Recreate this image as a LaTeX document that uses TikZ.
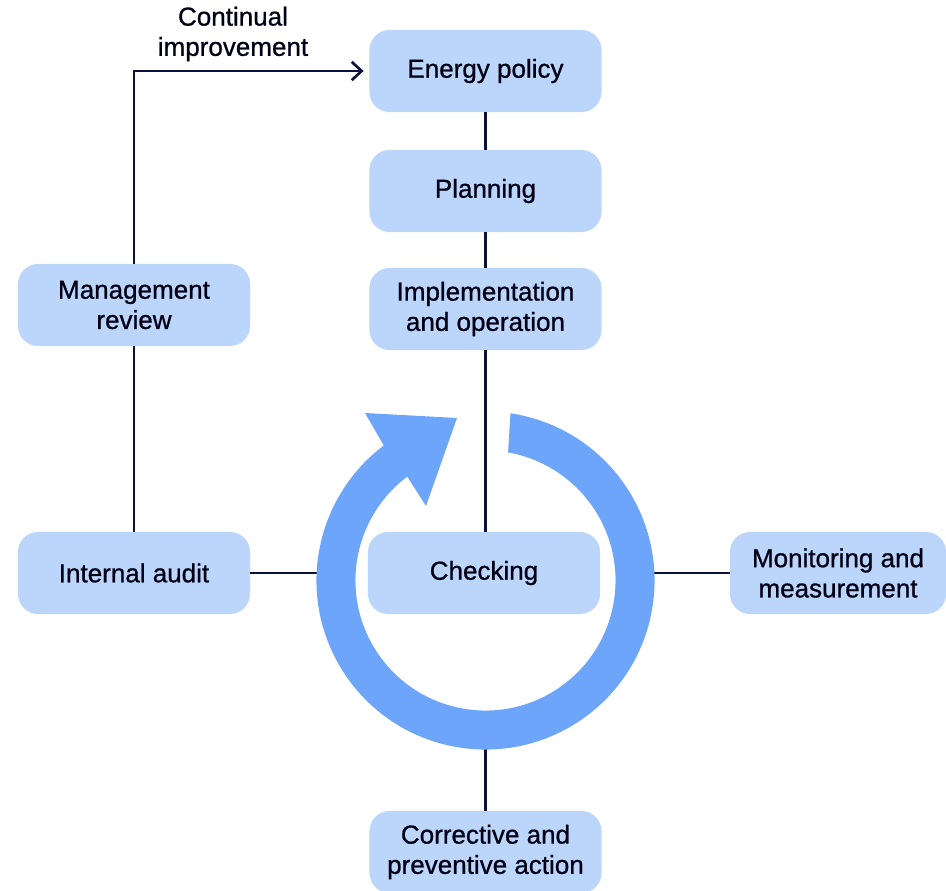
\documentclass[tikz,border=0pt]{standalone}
\usepackage{fontspec}
\setmainfont{Liberation Sans}
\newfontfamily\stagefont[FakeBold=0.8]{Liberation Sans}
\usetikzlibrary{arrows.meta}

\definecolor{boxblue}{RGB}{187,213,251}
\definecolor{ringblue}{RGB}{109,165,250}
\definecolor{linenavy}{RGB}{10,18,60}
\definecolor{textnavy}{RGB}{0,0,20}

\tikzset{
  stage/.style={rectangle,
      rounded corners = 0.5cm,
      fill = boxblue,
      text = textnavy,
      align = center,
      minimum width = 5.8cm,
      minimum height = 2.05cm,
      font = \stagefont\fontsize{18.5}{21.5}\selectfont},
  link/.style={draw = linenavy, line width = 1.9pt}
}

\begin{document}
\begin{tikzpicture}[x=0.025cm, y=0.025cm]
\useasboundingbox (0,0) rectangle (946,890);

% middle column
\node[stage] (policy) at (485.5,819) {Energy policy};
\node[stage] (planning) at (485.5,699) {Planning};
\node[stage] (implementation) at (485.5,581) {Implementation\\and operation};
\node[stage] (checking) at (484,317) {Checking};
\node[stage] (corrective) at (485.5,38) {Corrective and\\preventive action};

% left column
\node[stage] (review) at (134,585) {Management\\review};
\node[stage] (audit) at (134,317) {Internal audit};

% right side
\node[stage, minimum width = 5.4cm] (monitoring) at (838,317) {Monitoring and\\measurement};

\node[text = textnavy, align = center,
    font = \stagefont\fontsize{18.5}{21.5}\selectfont] (improvement) at (233,856) {Continual\\improvement};

% ends on the ring
\coordinate (hub) at (485.5,309.5);
\coordinate (ringW) at (330,317);
\coordinate (ringE) at (640,317);
\coordinate (ringS) at (485.5,150);

% connectors
\draw[link] (policy) -- (planning);
\draw[link] (planning) -- (implementation);
\draw[link] (implementation.south) -- (implementation.south |- checking.north);
\draw[link] (review) -- (audit);
\draw[link] (audit) -- (ringW);
\draw[link] (monitoring) -- (ringE);
\draw[link] (corrective) -- (ringS);
\draw[link, -{Straight Barb[length=7pt, width=13pt]}, shorten >= 4pt]
  (review.north) |- (policy.west);

% cycle arrow
\fill[ringblue] ([shift={(81.5:4.225cm)}]hub)
  arc[start angle=81.5, end angle=-233, radius=4.225cm]
  -- (365,477) -- (457,472) -- (426,384)
  -- ([shift={(127:3.25cm)}]hub)
  arc[start angle=127, end angle=440, radius=3.25cm] -- cycle;

\end{tikzpicture}
\end{document}
